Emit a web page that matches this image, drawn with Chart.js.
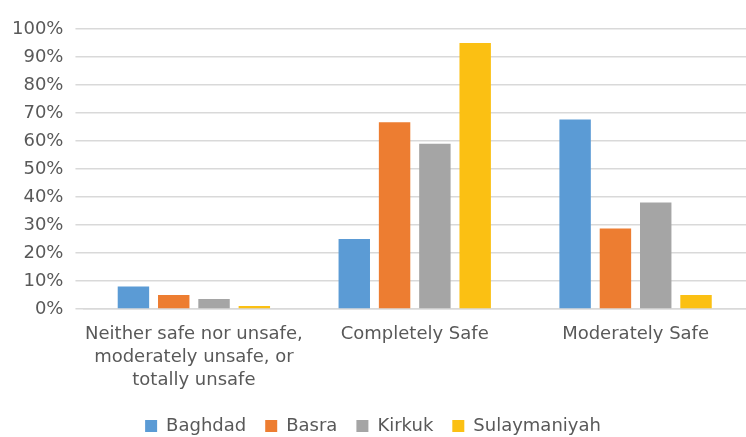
<!DOCTYPE html>
<html>
<head>
<meta charset="utf-8">
<script src="https://cdn.jsdelivr.net/npm/chart.js@4.4.0/dist/chart.umd.min.js"></script>
<style>
  html, body { margin: 0; padding: 0; background: #fff; }
  #wrap { width: 746px; height: 437px; }
</style>
</head>
<body>
<div id="wrap"><canvas id="safetyChart"></canvas></div>
<script>
const categories = [
  ['Neither safe nor unsafe,', 'moderately unsafe, or', 'totally unsafe'],
  'Completely Safe',
  'Moderately Safe'
];
const cities = ['Baghdad', 'Basra', 'Kirkuk', 'Sulaymaniyah'];
const baghdad = [8, 25, 67.7];
const basra = [5, 66.7, 28.7];
const kirkuk = [3.5, 59, 38];
const sulaymaniyah = [1, 95, 5];
const colors = ['#5b9bd5', '#ed7d31', '#a5a5a5', '#fbc013'];

const font = "'DejaVu Sans', sans-serif";
const textColor = '#595959';

const ctx = document.getElementById('safetyChart').getContext('2d');

const series = [baghdad, basra, kirkuk, sulaymaniyah];

const safetyChart = new Chart(ctx, {
  type: 'bar',
  data: {
    labels: categories,
    datasets: cities.map((city, i) => ({
      label: city,
      data: series[i],
      backgroundColor: colors[i],
      categoryPercentage: 0.73,
      barPercentage: 0.78
    }))
  },
  options: {
    responsive: true,
    maintainAspectRatio: false,
    animation: false,
    // negative bottom padding pulls the legend closer to the bottom edge
    layout: { padding: { top: 29, right: 0, left: 0, bottom: -8 } },
    plugins: {
      legend: {
        position: 'bottom',
        labels: {
          font: { family: font, size: 18 },
          color: textColor,
          boxWidth: 12,
          boxHeight: 12,
          padding: 19
        }
      },
      tooltip: { enabled: false }
    },
    scales: {
      x: {
        grid: { display: false },
        border: { color: '#d9d9d9', width: 1.5 },
        ticks: {
          font: { family: font, size: 18, lineHeight: 1.28 },
          color: textColor,
          padding: 6,
          maxRotation: 0,
          autoSkip: false
        }
      },
      y: {
        min: 0,
        max: 100,
        border: { display: false },
        grid: { color: '#d9d9d9', lineWidth: 1.5, drawTicks: true, tickLength: 8 },
        ticks: {
          stepSize: 10,
          font: { family: font, size: 18 },
          color: textColor,
          padding: 12,
          callback: v => v + '%'
        }
      }
    }
  }
});
</script>
</body>
</html>
